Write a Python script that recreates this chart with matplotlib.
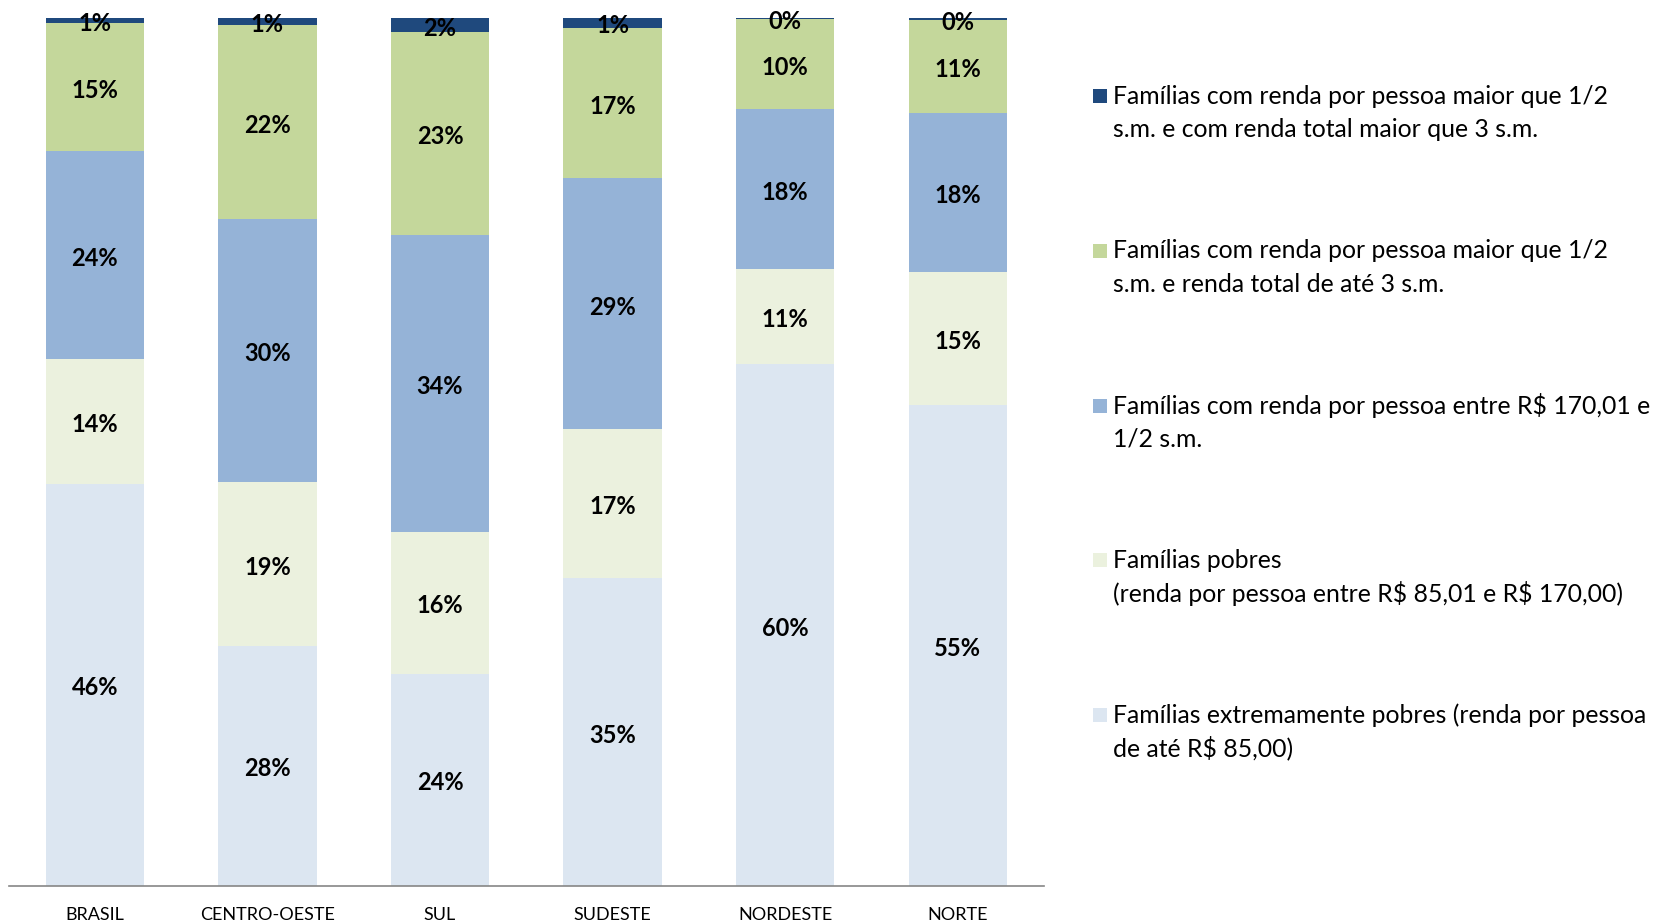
import numpy as np
import matplotlib.pyplot as plt
from matplotlib.patches import Rectangle

plt.rcParams['font.family'] = ['Lato', 'DejaVu Sans']
plt.rcParams['text.parse_math'] = False

# dados (% das famílias por faixa de renda)
regioes = ['BRASIL', 'CENTRO-OESTE', 'SUL', 'SUDESTE', 'NORDESTE', 'NORTE']
extrem_pobres = [46.3, 27.6, 24.4, 35.4, 60.1, 55.4]
pobres = [14.4, 18.9, 16.4, 17.2, 11.0, 15.3]
ate_meio_sm = [24.0, 30.3, 34.2, 28.9, 18.4, 18.3]
ate_3sm = [14.7, 22.4, 23.4, 17.4, 10.4, 10.8]
acima_3sm = [0.6, 0.8, 1.6, 1.1, 0.1, 0.2]

series = [extrem_pobres, pobres, ate_meio_sm, ate_3sm, acima_3sm]
cores = ['#DCE6F1', '#EBF1DE', '#95B3D7', '#C4D79B', '#1F497D']

legenda = [
    'Famílias com renda por pessoa maior que 1/2\ns.m. e com renda total maior que 3 s.m.',
    'Famílias com renda por pessoa maior que 1/2\ns.m. e renda total de até 3 s.m.',
    'Famílias com renda por pessoa entre R$ 170,01 e\n1/2 s.m.',
    'Famílias pobres\n(renda por pessoa entre R$ 85,01 e R$ 170,00)',
    'Famílias extremamente pobres (renda por pessoa\nde até R$ 85,00)',
]

W, H = 1657, 921
fig = plt.figure(figsize=(W / 100, H / 100), dpi=100)
ax = fig.add_axes([8.5 / W, 1 - 885.5 / H, (1044 - 8.5) / W, (885.5 - 18) / H])

x = np.arange(len(regioes))
base = np.zeros(len(regioes))
for vals, cor in zip(series, cores):
    vals = np.array(vals)
    ax.bar(x, vals, width=0.57, bottom=base, color=cor, linewidth=0)
    for xi, b, v in zip(x, base, vals):
        ax.annotate(f'{v:.0f}%', (xi, b + v / 2), xytext=(0, -2.3),
                    textcoords='offset points', ha='center', va='center',
                    fontsize=17, fontweight='bold', color='black')
    base += vals

ax.set_xlim(-0.5, len(regioes) - 0.5)
ax.set_ylim(0, 100)
ax.set_xticks(x)
ax.set_xticklabels(regioes, fontsize=13)
ax.tick_params(axis='x', length=0, pad=15.5)
ax.set_yticks([])
for s in ['top', 'right', 'left']:
    ax.spines[s].set_visible(False)
ax.spines['bottom'].set_color('#868686')
ax.spines['bottom'].set_linewidth(1.2)

# legenda manual (quadrado alinhado com a primeira linha)
ys = [96, 251, 406, 560, 715]
cores_leg = cores[::-1]
for y, cor, txt in zip(ys, cores_leg, legenda):
    fig.add_artist(Rectangle((1093 / W, 1 - (y + 7) / H), 13.5 / W, 14 / H,
                             transform=fig.transFigure, color=cor, lw=0))
    for k, linha in enumerate(txt.split('\n')):
        fig.text(1113 / W, 1 - (y + 33 * k) / H, linha, ha='left', va='center',
                 fontsize=17.8, color='black')

fig.savefig('out.png', dpi=100)
